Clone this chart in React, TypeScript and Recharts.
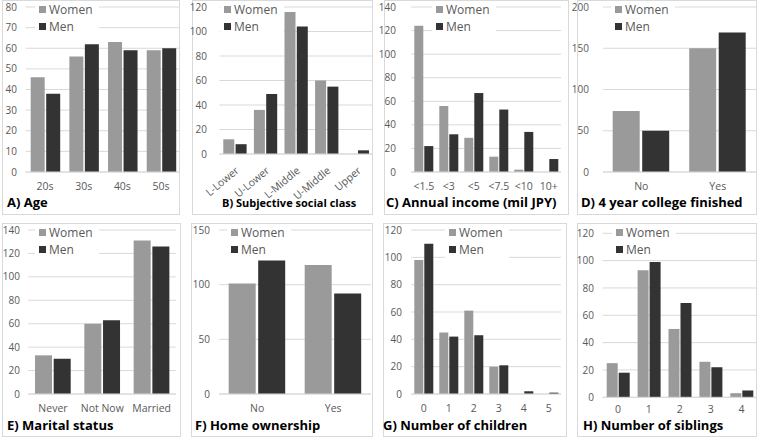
import React from 'react';
import { BarChart, Bar, XAxis, YAxis, CartesianGrid } from 'recharts';

const WOMEN = '#9a9a9a';
const MEN = '#333333';
const TEXT = '#595959';
const GRID = '#d9d9d9';
const FONT = '"Open Sans", "Noto Sans", sans-serif';

// A) Age
const ageCats = ['20s', '30s', '40s', '50s'];
const ageWomen = [46, 56, 63, 59];
const ageMen = [38, 62, 59, 60];
const ageTicks = [0, 10, 20, 30, 40, 50, 60, 70, 80];

// B) Subjective social class
const classCats = ['L-Lower', 'U-Lower', 'L-Middle', 'U-Middle', 'Upper'];
const classWomen = [12, 36, 116, 60, 0];
const classMen = [8, 49, 104, 55, 3];
const classTicks = [0, 20, 40, 60, 80, 100, 120];

// C) Annual income
const incomeCats = ['<1.5', '<3', '<5', '<7.5', '<10', '10+'];
const incomeWomen = [124, 56, 29, 13, 2, 0];
const incomeMen = [22, 32, 67, 53, 34, 11];
const incomeTicks = [0, 20, 40, 60, 80, 100, 120, 140];

// D) 4 year college finished
const collegeCats = ['No', 'Yes'];
const collegeWomen = [74, 150];
const collegeMen = [50, 169];
const collegeTicks = [0, 50, 100, 150, 200];

// E) Marital status
const maritalCats = ['Never', 'Not Now', 'Married'];
const maritalWomen = [33, 60, 131];
const maritalMen = [30, 63, 126];
const maritalTicks = [0, 20, 40, 60, 80, 100, 120, 140];

// F) Home ownership
const homeCats = ['No', 'Yes'];
const homeWomen = [101, 118];
const homeMen = [122, 92];
const homeTicks = [0, 50, 100, 150];

// G) Number of children
const childCats = ['0', '1', '2', '3', '4', '5'];
const childWomen = [98, 45, 61, 20, 0, 0];
const childMen = [110, 42, 43, 21, 2, 1];
const childTicks = [0, 20, 40, 60, 80, 100, 120];

// H) Number of siblings
const sibCats = ['0', '1', '2', '3', '4'];
const sibWomen = [25, 93, 50, 26, 3];
const sibMen = [18, 99, 69, 22, 5];
const sibTicks = [0, 20, 40, 60, 80, 100, 120];

type PanelProps = {
  title: string;
  cats: string[];
  women: number[];
  men: number[];
  ticks: number[];
  box: number[]; // x, y, w, h of the frame
  plot: number[]; // left, top, right, bottom of the plot area
  labelRight: number;
  gap: number;
  barGap: number;
  legendX: number;
  titleX: number;
  titleSize?: number;
  tickGap?: number;
  rotate?: boolean;
};

function Panel(p: PanelProps) {
  const [bx, by, bw, bh] = p.box;
  const [pl, pt, pr, pb] = p.plot;
  const cx = Math.max(0, bx - 12);
  const xh = p.rotate ? 45 : 20;
  const data = p.cats.map((c, i) => ({ cat: c, Women: p.women[i], Men: p.men[i] }));
  const max = p.ticks[p.ticks.length - 1];
  const fs = p.titleSize ?? 13;
  return (
    <>
      <div
        style={{
          position: 'absolute',
          left: bx,
          top: by,
          width: bw,
          height: bh,
          border: `1px solid ${GRID}`,
          boxSizing: 'border-box',
        }}
      />
      <div style={{ position: 'absolute', left: cx, top: by }}>
        <BarChart
          width={pr - cx}
          height={bh}
          data={data}
          margin={{ top: pt - by, right: 0, left: 0, bottom: by + bh - pb - xh }}
          barCategoryGap={p.gap}
          barGap={p.barGap}
        >
          <CartesianGrid vertical={false} stroke={GRID} />
          <XAxis
            dataKey="cat"
            height={xh}
            interval={0}
            tickLine={false}
            tickSize={0}
            tickMargin={p.tickGap ?? 11}
            axisLine={{ stroke: GRID }}
            angle={p.rotate ? -40 : 0}
            textAnchor={p.rotate ? 'end' : 'middle'}
            tick={{ fontSize: 10.5, fill: TEXT, fontFamily: FONT }}
          />
          <YAxis
            width={pl - cx}
            domain={[0, max]}
            ticks={p.ticks}
            interval={0}
            axisLine={false}
            tickLine={false}
            tickSize={0}
            tickMargin={pl - p.labelRight}
            tick={{ fontSize: 10, fill: TEXT, fontFamily: FONT }}
          />
          <Bar dataKey="Women" fill={WOMEN} isAnimationActive={false} />
          <Bar dataKey="Men" fill={MEN} isAnimationActive={false} />
        </BarChart>
      </div>
      <div
        style={{
          position: 'absolute',
          left: p.legendX - 4,
          top: by + 1,
          background: '#fff',
          padding: '0 6px 0 4px',
          fontFamily: FONT,
          fontSize: 12,
          color: TEXT,
        }}
      >
        {[
          ['Women', WOMEN],
          ['Men', MEN],
        ].map(([name, color]) => (
          <div key={name} style={{ height: 17, display: 'flex', alignItems: 'center' }}>
            <span style={{ width: 7, height: 7, background: color, marginRight: 3 }} />
            {name}
          </div>
        ))}
      </div>
      <div
        style={{
          position: 'absolute',
          left: p.titleX,
          top: by + 202.5 - 0.53 * fs,
          fontFamily: FONT,
          fontWeight: 700,
          fontSize: fs,
          lineHeight: `${fs}px`,
          color: '#000',
          whiteSpace: 'nowrap',
        }}
      >
        {p.title}
      </div>
    </>
  );
}

export default function App() {
  return (
    <div style={{ position: 'absolute', left: 0, top: 0, width: 757, height: 439, background: '#fff' }}>
      <Panel title="A) Age" cats={ageCats} women={ageWomen} men={ageMen} ticks={ageTicks}
        box={[2, 0, 178, 215]} plot={[25.7, 7, 180.4, 172]} labelRight={17}
        gap={5} barGap={1.5} legendX={39} titleX={7} />
      <Panel title="B) Subjective social class" cats={classCats} women={classWomen} men={classMen} ticks={classTicks}
        box={[192, 0, 181, 215]} plot={[219.4, 7, 372.4, 154]} labelRight={207}
        gap={3.9} barGap={1.3} legendX={224} titleX={222} titleSize={11} tickGap={12} rotate />
      <Panel title="C) Annual income (mil JPY)" cats={incomeCats} women={incomeWomen} men={incomeMen} ticks={incomeTicks}
        box={[384, 0, 185, 215]} plot={[411.3, 7, 561.3, 172]} labelRight={396}
        gap={3} barGap={1} legendX={436} titleX={386} />
      <Panel title="D) 4 year college finished" cats={collegeCats} women={collegeWomen} men={collegeMen} ticks={collegeTicks}
        box={[577, 0, 180, 215]} plot={[603, 7, 756, 172]} labelRight={589}
        gap={9.7} barGap={2.5} legendX={615} titleX={581} />

      <Panel title="E) Marital status" cats={maritalCats} women={maritalWomen} men={maritalMen} ticks={maritalTicks}
        box={[2, 223, 179, 214]} plot={[28.3, 230, 176.3, 394]} labelRight={20}
        gap={6.7} barGap={1.7} legendX={39} titleX={7} />
      <Panel title="F) Home ownership" cats={homeCats} women={homeWomen} men={homeMen} ticks={homeTicks}
        box={[191, 223, 182, 214]} plot={[219.2, 230, 371.2, 394]} labelRight={210}
        gap={9.5} barGap={2.5} legendX={231} titleX={195} />
      <Panel title="G) Number of children" cats={childCats} women={childWomen} men={childMen} ticks={childTicks}
        box={[383, 223, 184, 214]} plot={[411.3, 230, 561.3, 394]} labelRight={402}
        gap={3} barGap={1} legendX={449} titleX={383} />
      <Panel title="H) Number of siblings" cats={sibCats} women={sibWomen} men={sibMen} ticks={sibTicks}
        box={[577, 223, 180, 214]} plot={[602.5, 233.3, 757, 397.3]} labelRight={594}
        gap={4.2} barGap={1} legendX={616} titleX={583} tickGap={8} />
    </div>
  );
}
